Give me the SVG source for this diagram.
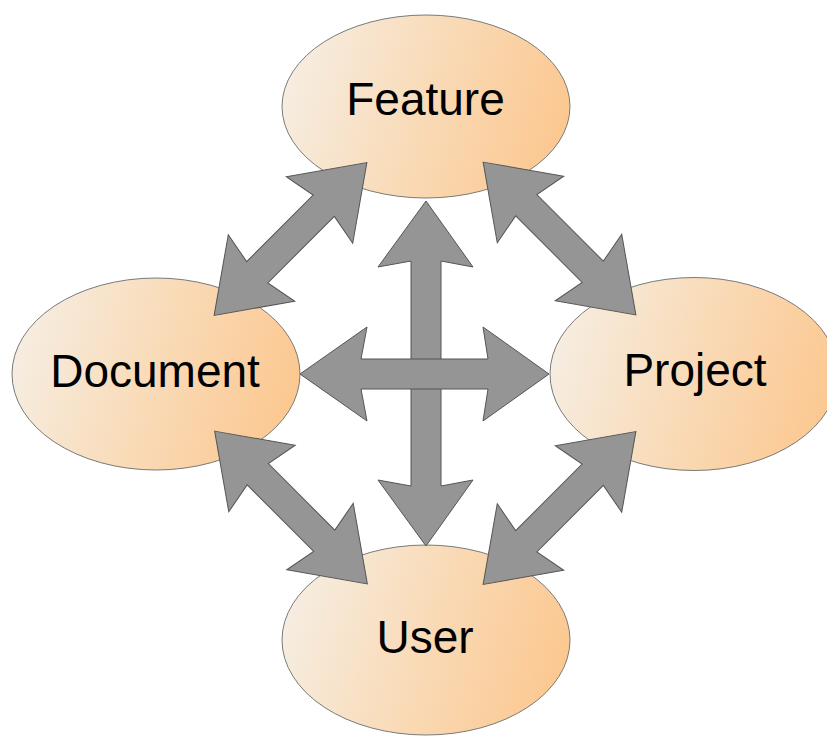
<svg xmlns="http://www.w3.org/2000/svg" width="827" height="738" viewBox="0 0 827 738">
  <defs>
    <linearGradient id="g" x1="0" y1="0.3" x2="1" y2="0.5">
      <stop offset="0" stop-color="#f6eee3"/>
      <stop offset="0.5" stop-color="#f9dbb8"/>
      <stop offset="1" stop-color="#fcc891"/>
    </linearGradient>
  </defs>
  <style>
    .node ellipse { fill: url(#g); stroke: #7a7a7a; stroke-width: 1; }
    .node text { font-family: "Liberation Sans", Arial, sans-serif; font-size: 46px; fill: #000; text-anchor: middle; }
    .arrow { fill: #959595; stroke: #555; stroke-width: 1; stroke-linejoin: miter; }
  </style>
  <rect width="827" height="738" fill="#fff"/>
  <g id="feature" class="node">
    <ellipse cx="426" cy="106.5" rx="144" ry="91.5"/>
    <text x="425.5" y="115">Feature</text>
  </g>
  <g id="document" class="node">
    <ellipse cx="156" cy="374" rx="144" ry="96"/>
    <text x="155" y="387">Document</text>
  </g>
  <g id="project" class="node">
    <ellipse cx="694" cy="374" rx="144" ry="96.5"/>
    <text x="695" y="386">Project</text>
  </g>
  <g id="user" class="node">
    <ellipse cx="426" cy="640" rx="144" ry="95"/>
    <text x="425" y="653">User</text>
  </g>
  <g id="connectors">
    <path class="arrow" transform="translate(290.5 239) rotate(-45)" d="M-108 0 L-41 -47 L-47 -15 L47 -15 L41 -47 L108 0 L41 47 L47 15 L-47 15 L-41 47 Z"/>
    <path class="arrow" transform="translate(559.5 238.5) rotate(45)" d="M-108 0 L-41 -47 L-47 -15 L47 -15 L41 -47 L108 0 L41 47 L47 15 L-47 15 L-41 47 Z"/>
    <path class="arrow" transform="translate(291 507.5) rotate(45)" d="M-108 0 L-41 -47 L-47 -15 L47 -15 L41 -47 L108 0 L41 47 L47 15 L-47 15 L-41 47 Z"/>
    <path class="arrow" transform="translate(559.5 508) rotate(-45)" d="M-108 0 L-41 -47 L-47 -15 L47 -15 L41 -47 L108 0 L41 47 L47 15 L-47 15 L-41 47 Z"/>
    <path class="arrow" d="M426 201 L473 267 L441 261 L441 486 L473 480 L426 546 L378 480 L411 486 L411 261 L378 267 Z"/>
    <path class="arrow" d="M300 374 L367 327 L361 359 L488 359 L483 327 L549 374 L483 421 L488 389 L361 389 L367 421 Z"/>
  </g>
</svg>
